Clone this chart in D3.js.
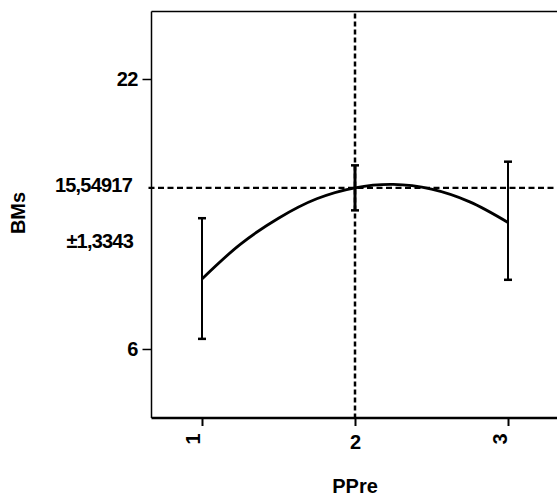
<!DOCTYPE html>
<html>
<head>
<meta charset="utf-8">
<script src="https://cdn.jsdelivr.net/npm/d3@7"></script>
<style>
  html, body { margin: 0; padding: 0; background: #fff; }
  svg { display: block; }
  text { font-family: "Liberation Sans", Arial, sans-serif; font-weight: bold; fill: #000; }
</style>
</head>
<body>
<svg id="chart" width="557" height="497"></svg>
<script>
// ---- data ----
const levels = [1, 2, 3];
const means = [10.15, 15.549, 13.5];
const lower = [6.6, 14.215, 10.1];
const upper = [13.75, 16.883, 17.1];
const curveX = [1, 1.25, 1.5, 1.75, 2, 2.25, 2.5, 2.75, 3];
const curveY = [10.15, 12.2, 13.75, 14.9, 15.55, 15.75, 15.47, 14.72, 13.5];
const yTicks = [6, 22];
const xTicks = [1, 2, 3];
const currentX = 2;
const currentY = 15.549;
const currentLabel = "15,54917";
const ciLabel = "\u00b11,3343";
const xTitle = "PPre";
const yTitle = "BMs";

// ---- layout ----
const svg = d3.select("#chart");
const pL = 151.5, pR = 558.5, pT = 11.5, pB = 418;
const x = d3.scaleLinear().domain([0.67, 3.33]).range([pL, pR]);
const y = d3.scaleLinear().domain([1.91, 26.0]).range([pB, pT]);
const fs = "20px";
const ls = "-0.8px";

// frame
svg.append("line").attr("x1", pL).attr("x2", 557).attr("y1", pT).attr("y2", pT)
  .attr("stroke", "#000").attr("stroke-width", 1.3);
svg.append("line").attr("x1", pL).attr("x2", pL).attr("y1", pT).attr("y2", pB)
  .attr("stroke", "#000").attr("stroke-width", 1.5);
svg.append("line").attr("x1", pL).attr("x2", 557).attr("y1", pB).attr("y2", pB)
  .attr("stroke", "#000").attr("stroke-width", 2.5);

// y axis
const yAxis = svg.append("g").attr("transform", `translate(${pL},0)`)
  .call(d3.axisLeft(y).tickValues(yTicks).tickSize(9).tickPadding(5).tickFormat(d3.format("d")));
yAxis.select(".domain").remove();
yAxis.selectAll("line").attr("stroke", "#000").attr("stroke-width", 1.5);
yAxis.selectAll("text").style("font-size", fs).style("letter-spacing", ls)
  .style("font-family", "'Liberation Sans', Arial, sans-serif").style("font-weight", "bold").attr("fill", "#000");

// x axis
const xAxis = svg.append("g").attr("transform", `translate(0,${pB})`)
  .call(d3.axisBottom(x).tickValues(xTicks).tickSize(8).tickPadding(8).tickFormat(d3.format("d")));
xAxis.select(".domain").remove();
xAxis.selectAll("line").attr("stroke", "#000").attr("stroke-width", 2);
xAxis.selectAll("text").style("font-size", fs)
  .style("font-family", "'Liberation Sans', Arial, sans-serif").style("font-weight", "bold").attr("fill", "#000")
  .each(function(d) {
    const t = d3.select(this);
    if (d !== currentX) {
      t.attr("y", 0).attr("dy", "0.35em").attr("text-anchor", "middle")
       .attr("transform", `translate(-9,21) rotate(-90)`);
    } else {
      t.attr("y", 17).attr("dy", "0.71em");
    }
  });

// current value labels
svg.append("text").attr("x", 132).attr("y", y(currentY) - 3).attr("dy", "0.35em")
  .attr("text-anchor", "end").style("font-size", fs).style("letter-spacing", ls).text(currentLabel);
svg.append("text").attr("x", 133).attr("y", 241).attr("dy", "0.35em")
  .attr("text-anchor", "end").style("font-size", fs).style("letter-spacing", ls).text(ciLabel);

// titles
svg.append("text").attr("transform", `translate(25,213) rotate(-90)`)
  .attr("text-anchor", "middle").style("font-size", fs).text(yTitle);
svg.append("text").attr("x", 355).attr("y", 493)
  .attr("text-anchor", "middle").style("font-size", fs).text(xTitle);

// dashed crosshair
svg.append("line").attr("x1", x(currentX)).attr("x2", x(currentX)).attr("y1", pT + 2).attr("y2", pB)
  .attr("stroke", "#000").attr("stroke-width", 2.5).attr("stroke-dasharray", "5,3");
svg.append("line").attr("x1", pL - 3).attr("x2", 557).attr("y1", y(currentY)).attr("y2", y(currentY))
  .attr("stroke", "#000").attr("stroke-width", 2.2).attr("stroke-dasharray", "6,3.5");

// prediction curve
const pts = curveX.map((d, i) => [d, curveY[i]]);
svg.append("path").datum(pts)
  .attr("d", d3.line().x(d => x(d[0])).y(d => y(d[1])).curve(d3.curveCatmullRom))
  .attr("fill", "none").attr("stroke", "#000").attr("stroke-width", 2.8);

// error bars
const eb = svg.append("g").attr("stroke", "#000");
levels.forEach((lv, i) => {
  const cx = x(lv);
  eb.append("line").attr("x1", cx).attr("x2", cx).attr("y1", y(lower[i])).attr("y2", y(upper[i]))
    .attr("stroke-width", i === 1 ? 3 : 2);
  [lower[i], upper[i]].forEach(v => {
    eb.append("line").attr("x1", cx - 4).attr("x2", cx + 4).attr("y1", y(v)).attr("y2", y(v))
      .attr("stroke-width", 2.5);
  });
});
</script>
</body>
</html>
